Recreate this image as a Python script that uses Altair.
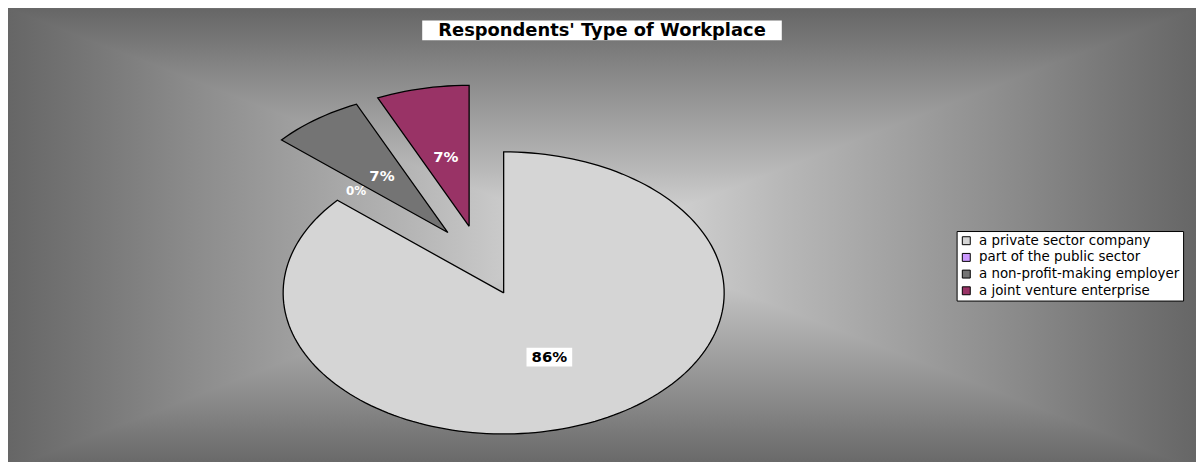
import altair as alt
import numpy as np
import pandas as pd

# ---------------- data ----------------
categories = ["a private sector company", "part of the public sector",
              "a non-profit-making employer", "a joint venture enterprise"]
percent = [86.4, 0.0, 6.8, 6.8]
colors = ["#d5d5d5", "#cc99ff", "#747474", "#993366"]
title_text = "Respondents' Type of Workplace"

# ---------------- layout ----------------
W, H = 1196, 454
CX, CY = 476, 253          # pie centre (px)
RX, RY = 222, 142          # elliptical radii (px)
EXPLODE = 0.25             # explosion of every slice (fraction of radius)
LABEL_R = 0.75             # label distance from centre (fraction of radius)
DARK, LIGHT = "#666666", "#e0e0e0"

# ---------------- pie geometry from the data ----------------
total = float(sum(percent))
poly_rows, label_rows = [], []
start = 0.0
for i, (cat, p) in enumerate(zip(categories, percent)):
    a0 = start
    a1 = start + 2 * np.pi * p / total
    start = a1
    mid = (a0 + a1) / 2
    ox = CX + EXPLODE * RX * np.sin(mid)
    oy = CY - EXPLODE * RY * np.cos(mid)
    label_rows.append(dict(cat=cat, pct=p, text=f"{round(p)}%",
                           lx=CX + LABEL_R * RX * np.sin(mid),
                           ly=CY - LABEL_R * RY * np.cos(mid)))
    if p == 0:
        continue
    n = max(12, int(p * 2))
    pts = [(ox, oy)]
    for k in range(n + 1):
        a = a0 + (a1 - a0) * k / n
        pts.append((ox + RX * np.sin(a), oy - RY * np.cos(a)))
    pts.append((ox, oy))
    for j, (x, y) in enumerate(pts):
        poly_rows.append(dict(cat=cat, idx=j, px=x, py=y))

poly_df = pd.DataFrame(poly_rows)
label_df = pd.DataFrame(label_rows)

# background "rectangular" gradient frame
GX0, GX1, GY0, GY1 = 0, W, -1, 462
GCX, GCY = (GX0 + GX1) / 2, (GY0 + GY1) / 2
tri_top = pd.DataFrame(dict(idx=[0, 1, 2, 3], px=[GX0, GX1, GCX, GX0], py=[GY0, GY0, GCY, GY0]))
tri_bot = pd.DataFrame(dict(idx=[0, 1, 2, 3], px=[GX0, GX1, GCX, GX0], py=[GY1, GY1, GCY, GY1]))

def stops(reverse=False, mirror=False):
    base = [(0.0, DARK), (0.3, "#8a8a8a"), (0.7, "#b8b8b8"), (1.0, LIGHT)]
    if mirror:
        half = [(o / 2, c) for o, c in base]
        full = half + [(1 - o, c) for o, c in reversed(half[:-1])]
        return [alt.GradientStop(color=c, offset=o) for o, c in full]
    if reverse:
        base = [(1 - o, c) for o, c in reversed(base)]
    return [alt.GradientStop(color=c, offset=o) for o, c in base]

xs = alt.Scale(domain=[0, W], nice=False, zero=False)
ys = alt.Scale(domain=[0, H], nice=False, zero=False, reverse=True)
X = lambda f: alt.X(f, type="quantitative", scale=xs, axis=None)
Y = lambda f: alt.Y(f, type="quantitative", scale=ys, axis=None)

one = alt.InlineData(values=[{"t": title_text}])

bg = alt.Chart(one).mark_rect(
    fill=alt.LinearGradient(gradient="linear", x1=0, x2=1, y1=0, y2=0, stops=stops(mirror=True))
).encode(x=alt.value(GX0), x2=alt.value(GX1), y=alt.value(GY0), y2=alt.value(GY1))

top = alt.Chart(tri_top).mark_line(
    strokeWidth=0,
    fill=alt.LinearGradient(gradient="linear", x1=0, x2=0, y1=0, y2=1, stops=stops())
).encode(x=X("px"), y=Y("py"), order=alt.Order("idx:Q"))

bot = alt.Chart(tri_bot).mark_line(
    strokeWidth=0,
    fill=alt.LinearGradient(gradient="linear", x1=0, x2=0, y1=0, y2=1, stops=stops(reverse=True))
).encode(x=X("px"), y=Y("py"), order=alt.Order("idx:Q"))

pie = alt.Chart(poly_df).mark_line(stroke="black", strokeWidth=1.3, strokeJoin="miter").encode(
    x=X("px"), y=Y("py"), order=alt.Order("idx:Q"),
    fill=alt.Fill("cat:N", scale=alt.Scale(domain=categories, range=colors),
                  legend=alt.Legend(title=None, orient="none", legendX=955, legendY=223,
                                    symbolType="square", symbolSize=64,
                                    symbolStrokeColor="black", symbolStrokeWidth=1,
                                    labelFont="DejaVu Sans", labelFontSize=13.5, labelColor="black",
                                    fillColor="white", strokeColor="black", padding=3,
                                    rowPadding=1.8, labelLimit=400, labelOffset=6)),
)

box86 = alt.Chart(label_df).transform_filter(alt.datum.pct > 50).mark_point(
    shape="M-1,-0.413L1,-0.413L1,0.413L-1,0.413Z", size=2116, filled=True,
    fill="white", opacity=1, strokeWidth=0
).encode(x=X("lx"), y=Y("ly"))

txt86 = alt.Chart(label_df).transform_filter(alt.datum.pct > 50).mark_text(
    font="DejaVu Sans", fontWeight="bold", fontSize=15, color="black", baseline="middle"
).encode(x=X("lx"), y=Y("ly"), text="text:N")

txt_small = alt.Chart(label_df).transform_filter(alt.datum.pct < 50).mark_text(
    font="DejaVu Sans", fontWeight="bold", color="white", baseline="middle"
).encode(x=X("lx"), y=Y("ly"), text="text:N",
         size=alt.condition("datum.pct == 0", alt.value(12), alt.value(15)))

title_box = alt.Chart(one).mark_rect(color="white").encode(
    x=alt.value(417), x2=alt.value(779), y=alt.value(11), y2=alt.value(31))
title = alt.Chart(one).mark_text(
    font="DejaVu Sans", fontWeight="bold", fontSize=18, color="black", baseline="middle"
).encode(x=alt.value(598), y=alt.value(21.5), text="t:N")

chart = alt.layer(bg, top, bot, pie, box86, txt86, txt_small, title_box, title).properties(
    width=W, height=H, padding=0, background=DARK,
    autosize=alt.AutoSizeParams(type="none"),
).configure_view(strokeWidth=0)

chart.save("out.html", embed_options={"renderer": "svg", "actions": False})
